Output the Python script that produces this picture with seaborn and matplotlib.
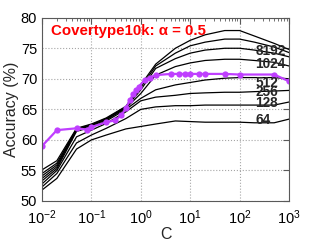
import numpy as np
import pandas as pd
import matplotlib
matplotlib.use("Agg")
import matplotlib.pyplot as plt
import seaborn as sns

# C grid for the black curves (one curve per b)
c_grid = [0.01, 0.02, 0.05, 0.1, 0.2, 0.5, 1, 2, 5, 10, 20, 50, 100, 200, 500, 1000]
acc_64 = [51.8, 53.7, 58.5, 60.0, 60.8, 61.8, 62.2, 62.6, 63.1, 63.0, 62.9, 62.9, 62.9, 62.8, 62.8, 63.4]
acc_128 = [52.3, 54.5, 59.5, 60.8, 61.9, 63.5, 65.0, 65.4, 65.6, 65.6, 65.7, 65.7, 65.7, 65.7, 65.7, 66.2]
acc_256 = [52.8, 55.0, 60.5, 61.6, 62.7, 64.6, 66.4, 67.0, 67.3, 67.6, 67.7, 67.8, 67.8, 67.9, 68.0, 68.1]
acc_512 = [53.3, 55.3, 61.4, 62.1, 63.1, 65.0, 66.8, 68.2, 69.0, 69.4, 69.8, 70.1, 70.2, 70.2, 70.2, 70.0]
acc_1024 = [53.7, 55.6, 61.6, 62.3, 63.3, 65.2, 67.6, 70.6, 72.0, 72.6, 73.0, 73.2, 73.2, 73.0, 72.7, 72.1]
acc_2048 = [54.1, 55.9, 61.7, 62.4, 63.4, 65.3, 68.2, 71.7, 73.3, 74.2, 74.7, 75.0, 75.0, 74.7, 74.2, 73.6]
acc_4096 = [54.5, 56.2, 61.8, 62.5, 63.5, 65.4, 68.6, 72.1, 74.2, 75.4, 76.0, 76.5, 76.5, 76.0, 75.2, 74.3]
acc_8192 = [55.1, 56.6, 61.9, 62.6, 63.6, 65.5, 69.0, 72.4, 75.0, 76.3, 77.2, 77.9, 77.9, 77.0, 75.8, 74.8]

curves = {64: acc_64, 128: acc_128, 256: acc_256, 512: acc_512,
          1024: acc_1024, 2048: acc_2048, 4096: acc_4096, 8192: acc_8192}

# purple (baseline) curve
c_base = [0.01, 0.02, 0.05, 0.08, 0.1, 0.2, 0.3, 0.4, 0.5, 0.6, 0.7, 0.8, 0.9,
          1.2, 1.5, 2, 4, 6, 8, 10, 15, 20, 50, 100, 500, 1000]
acc_base = [59.0, 61.6, 61.9, 61.7, 62.1, 62.9, 63.2, 64.0, 65.2, 66.5, 67.5, 68.1, 68.7,
            69.8, 70.2, 70.6, 70.8, 70.8, 70.8, 70.8, 70.8, 70.8, 70.8, 70.7, 70.7, 69.6]

# labels on the right: text, y position
label_text = ["8192", "1024", "512", "256", "128", "64"]
label_y = [74.5, 72.4, 69.3, 67.9, 66.0, 63.3]
label_x = 210

sns.set_style("white")
plt.rcParams['font.family'] = ['Liberation Sans', 'DejaVu Sans']
plt.rcParams['mathtext.fontset'] = 'custom'
plt.rcParams['mathtext.rm'] = 'Liberation Sans'

rows = []
for b, vals in curves.items():
    for c, a in zip(c_grid, vals):
        rows.append((b, c, a))
df = pd.DataFrame(rows, columns=["b", "C", "acc"])
df_base = pd.DataFrame({"C": c_base, "acc": acc_base})

fig = plt.figure(figsize=(3.19, 2.4), dpi=100)
ax = fig.add_axes([0.1317, 0.1625, 0.7743, 0.7637])

sns.lineplot(data=df, x="C", y="acc", hue="b", units="b", estimator=None,
             palette=["black"] * len(curves), linewidth=0.9, legend=False, ax=ax)
sns.lineplot(data=df_base, x="C", y="acc", color="#bf3fff", linewidth=1.6,
             marker="o", markersize=4.5, markeredgewidth=0, legend=False, ax=ax)

ax.set_xscale("log")
ax.set_xlim(0.01, 1000)
ax.set_ylim(50, 80)
ax.set_yticks([50, 55, 60, 65, 70, 75, 80])
ax.set_xticks([0.01, 0.1, 1, 10, 100, 1000])

ax.grid(True, which="major", linestyle=":", color="0.65", linewidth=0.8)
for s in ax.spines.values():
    s.set_color("0.35")
    s.set_linewidth(0.8)
ax.tick_params(which="both", direction="in", top=True, right=True, colors="0.35",
               labelcolor="black", labelsize=10.5)
ax.tick_params(which="major", length=4)
ax.tick_params(which="minor", length=2)
ax.tick_params(axis="x", pad=5)

ax.set_xlabel("C", fontsize=11.5, labelpad=0)
ax.set_ylabel("Accuracy (%)", fontsize=11.5, labelpad=1)

for t, y in zip(label_text, label_y):
    ax.text(label_x, y, t, fontsize=9.8, fontweight="bold", ha="left", va="center")

ax.text(0.015, 77.8, "Covertype10k: α = 0.5", color="red", fontsize=10.8,
        fontweight="bold", ha="left", va="center")

fig.savefig("out.png", dpi=100)
